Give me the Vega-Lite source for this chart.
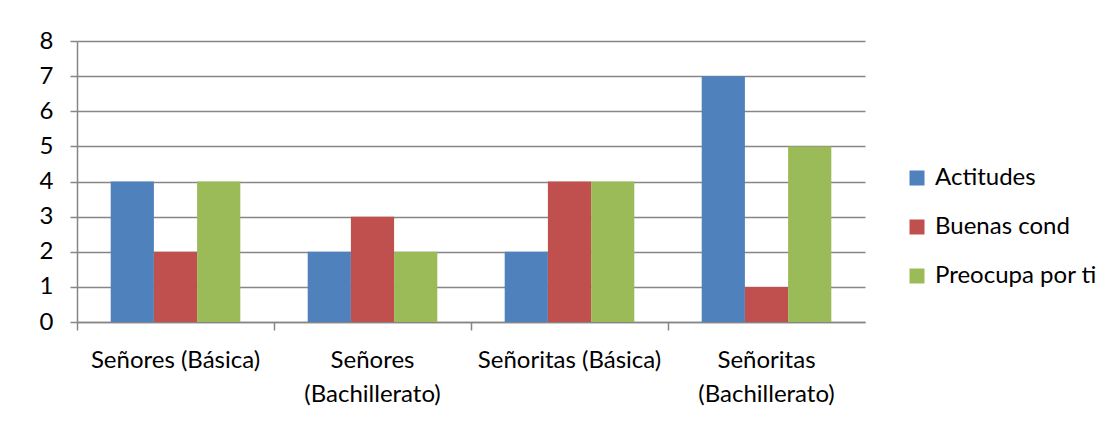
{
  "$schema": "https://vega.github.io/schema/vega-lite/v6.json",
  "width": 788,
  "height": 281,
  "autosize": {"type": "none"},
  "padding": {"left": 77, "top": 41, "right": 246, "bottom": 110},
  "background": "white",
  "config": {
    "view": {"stroke": null},
    "font": "Lato",
    "axis": {"labelFont": "Lato", "labelColor": "#000000", "labelFontSize": 24, "labelLimit": 400, "gridColor": "#868686", "domainColor": "#868686", "tickColor": "#868686", "gridWidth": 1.5, "domainWidth": 1.5, "tickWidth": 1.5},
    "legend": {"labelFont": "Lato", "labelFontSize": 24, "labelColor": "#000000", "labelLimit": 400}
  },
  "data": {
    "values": [
      {"grupo": "Señores (Básica)", "serie": "Actitudes", "valor": 4},
      {"grupo": "Señores (Básica)", "serie": "Buenas cond", "valor": 2},
      {"grupo": "Señores (Básica)", "serie": "Preocupa por ti", "valor": 4},
      {"grupo": "Señores (Bachillerato)", "serie": "Actitudes", "valor": 2},
      {"grupo": "Señores (Bachillerato)", "serie": "Buenas cond", "valor": 3},
      {"grupo": "Señores (Bachillerato)", "serie": "Preocupa por ti", "valor": 2},
      {"grupo": "Señoritas (Básica)", "serie": "Actitudes", "valor": 2},
      {"grupo": "Señoritas (Básica)", "serie": "Buenas cond", "valor": 4},
      {"grupo": "Señoritas (Básica)", "serie": "Preocupa por ti", "valor": 4},
      {"grupo": "Señoritas (Bachillerato)", "serie": "Actitudes", "valor": 7},
      {"grupo": "Señoritas (Bachillerato)", "serie": "Buenas cond", "valor": 1},
      {"grupo": "Señoritas (Bachillerato)", "serie": "Preocupa por ti", "valor": 5}
    ]
  },
  "mark": {"type": "bar", "stroke": null},
  "encoding": {
    "x": {
      "field": "grupo",
      "type": "nominal",
      "sort": null,
      "scale": {"paddingInner": 0, "paddingOuter": 0},
      "axis": {
        "title": null,
        "labelAngle": 0,
        "bandPosition": 0,
        "labelAlign": "center",
        "labelBaseline": "top",
        "ticks": true,
        "tickSize": 8,
        "labelPadding": 18,
        "labelLineHeight": 34,
        "labelExpr": "(datum.value == 'Señores (Bachillerato)' || datum.value == 'Señoritas (Bachillerato)') ? split(datum.value, ' ') : datum.value",
        "labelBound": false,
        "labelOverlap": false
      }
    },
    "xOffset": {
      "field": "serie",
      "type": "nominal",
      "scale": {"paddingInner": 0, "paddingOuter": 0.78}
    },
    "y": {
      "field": "valor",
      "type": "quantitative",
      "scale": {"domain": [0, 8], "nice": false},
      "axis": {"title": null, "values": [0,1,2,3,4,5,6,7,8], "tickSize": 7, "labelPadding": 17, "grid": true}
    },
    "color": {
      "field": "serie",
      "type": "nominal",
      "scale": {"domain": ["Actitudes", "Buenas cond", "Preocupa por ti"], "range": ["#4F81BD", "#C0504D", "#9BBB59"]},
      "legend": {
        "title": null,
        "orient": "none",
        "legendX": 828,
        "legendY": 125,
        "symbolType": "square",
        "symbolSize": 225,
        "symbolStrokeWidth": 0,
        "rowPadding": 25,
        "labelOffset": 6
      }
    }
  }
}
